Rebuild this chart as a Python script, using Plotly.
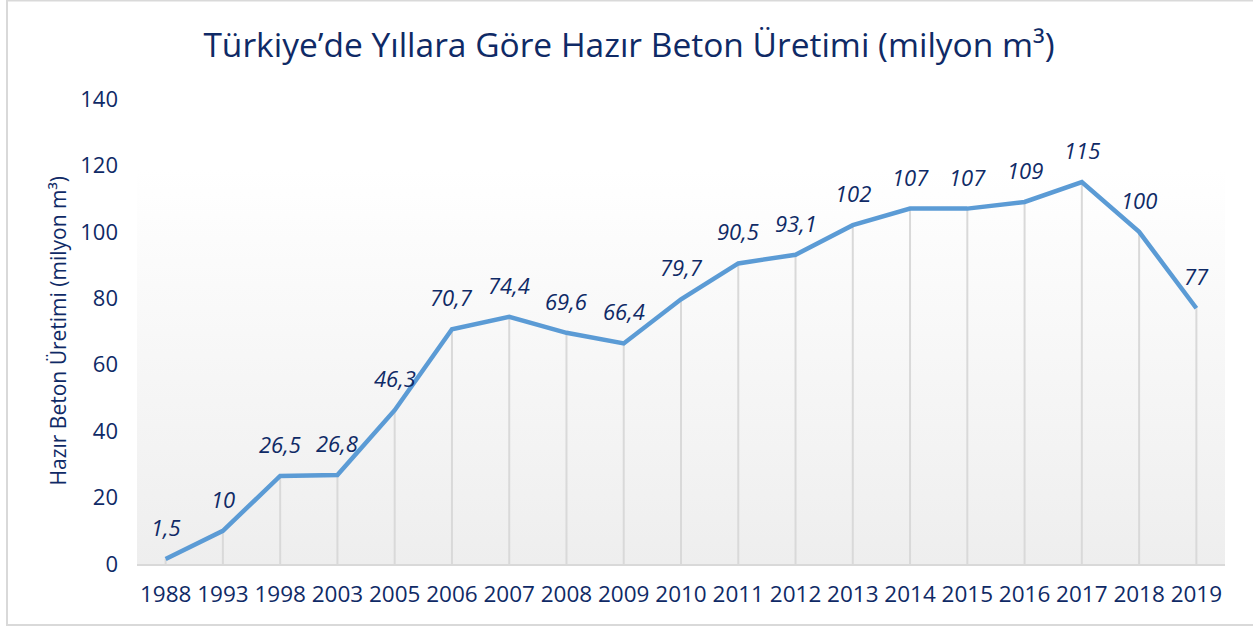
import plotly.graph_objects as go

years = ["1988", "1993", "1998", "2003", "2005", "2006", "2007", "2008", "2009", "2010",
         "2011", "2012", "2013", "2014", "2015", "2016", "2017", "2018", "2019"]
production = [1.5, 10, 26.5, 26.8, 46.3, 70.7, 74.4, 69.6, 66.4, 79.7,
              90.5, 93.1, 102, 107, 107, 109, 115, 100, 77]
labels = ["1,5", "10", "26,5", "26,8", "46,3", "70,7", "74,4", "69,6", "66,4", "79,7",
          "90,5", "93,1", "102", "107", "107", "109", "115", "100", "77"]
y_ticks = [0, 20, 40, 60, 80, 100, 120, 140]

NAVY = "#0f2a66"
FONT = "Open Sans"
W, H = 1253, 627
L, R, T, B = 137, 28, 99, 63
pw, ph = W - L - R, H - T - B

idx = list(range(len(years)))

fig = go.Figure()

# plot-area gradient background
fig.add_trace(go.Scatter(
    x=[idx[0] - 0.5, idx[-1] + 0.5, idx[-1] + 0.5, idx[0] - 0.5, idx[0] - 0.5],
    y=[y_ticks[0], y_ticks[0], y_ticks[-1], y_ticks[-1], y_ticks[0]],
    mode="lines", line=dict(width=0), fill="toself",
    fillgradient=dict(type="vertical", start=y_ticks[0], stop=y_ticks[-1] * 0.85,
                      colorscale=[[0, "#eeeeee"], [1, "#ffffff"]]),
    hoverinfo="skip", showlegend=False))

# drop lines
dx, dy = [], []
for i, v in zip(idx, production):
    dx += [i, i, None]
    dy += [0, v, None]
fig.add_trace(go.Scatter(x=dx, y=dy, mode="lines",
                         line=dict(color="#d9d9d9", width=2),
                         hoverinfo="skip", showlegend=False))

# main line
fig.add_trace(go.Scatter(x=idx, y=production, mode="lines",
                         line=dict(color="#5b9bd5", width=4.5),
                         showlegend=False))

for i, v, t in zip(idx, production, labels):
    fig.add_annotation(x=i, y=v, text=t, showarrow=False, yshift=32,
                       font=dict(family=FONT, size=22, color=NAVY, style="italic"))

# y-axis title
fig.add_annotation(xref="paper", yref="paper", x=(57 - L) / pw, y=0.5,
                   text="Hazır Beton Üretimi (milyon m³)", textangle=-90,
                   showarrow=False, xanchor="center", yanchor="middle",
                   font=dict(family=FONT, size=21, color=NAVY))

# outer border
fig.add_shape(type="rect", xref="paper", yref="paper",
              x0=(7 - L) / pw, x1=(W + 6 - L) / pw,
              y0=(T + ph - 625) / ph, y1=(T + ph - 0.5) / ph,
              line=dict(color="#d9d9d9", width=2), layer="below")

fig.update_layout(
    width=W, height=H,
    margin=dict(l=L, r=R, t=T, b=B),
    paper_bgcolor="white", plot_bgcolor="white",
    title=dict(text="Türkiye’de Yıllara Göre Hazır Beton Üretimi (milyon m³)",
               x=0.502, xanchor="center", y=1 - 45 / H, yanchor="middle",
               font=dict(family=FONT, size=33.5, color=NAVY)),
    xaxis=dict(range=[-0.5, len(years) - 0.5], tickmode="array", tickvals=idx,
               ticktext=years, showgrid=False, zeroline=False,
               showline=True, linecolor="#d9d9d9", linewidth=2,
               ticks="", ticklabelstandoff=9,
               tickfont=dict(family=FONT, size=22.5, color=NAVY)),
    yaxis=dict(range=[0, 140], tickmode="array", tickvals=y_ticks,
               showgrid=False, zeroline=False, showline=False, ticks="",
               ticklabelstandoff=18,
               tickfont=dict(family=FONT, size=22, color=NAVY)),
)

fig.write_html("out.html", config={"displayModeBar": False},
               post_script="document.body.style.margin='0';document.body.style.overflow='hidden';")
